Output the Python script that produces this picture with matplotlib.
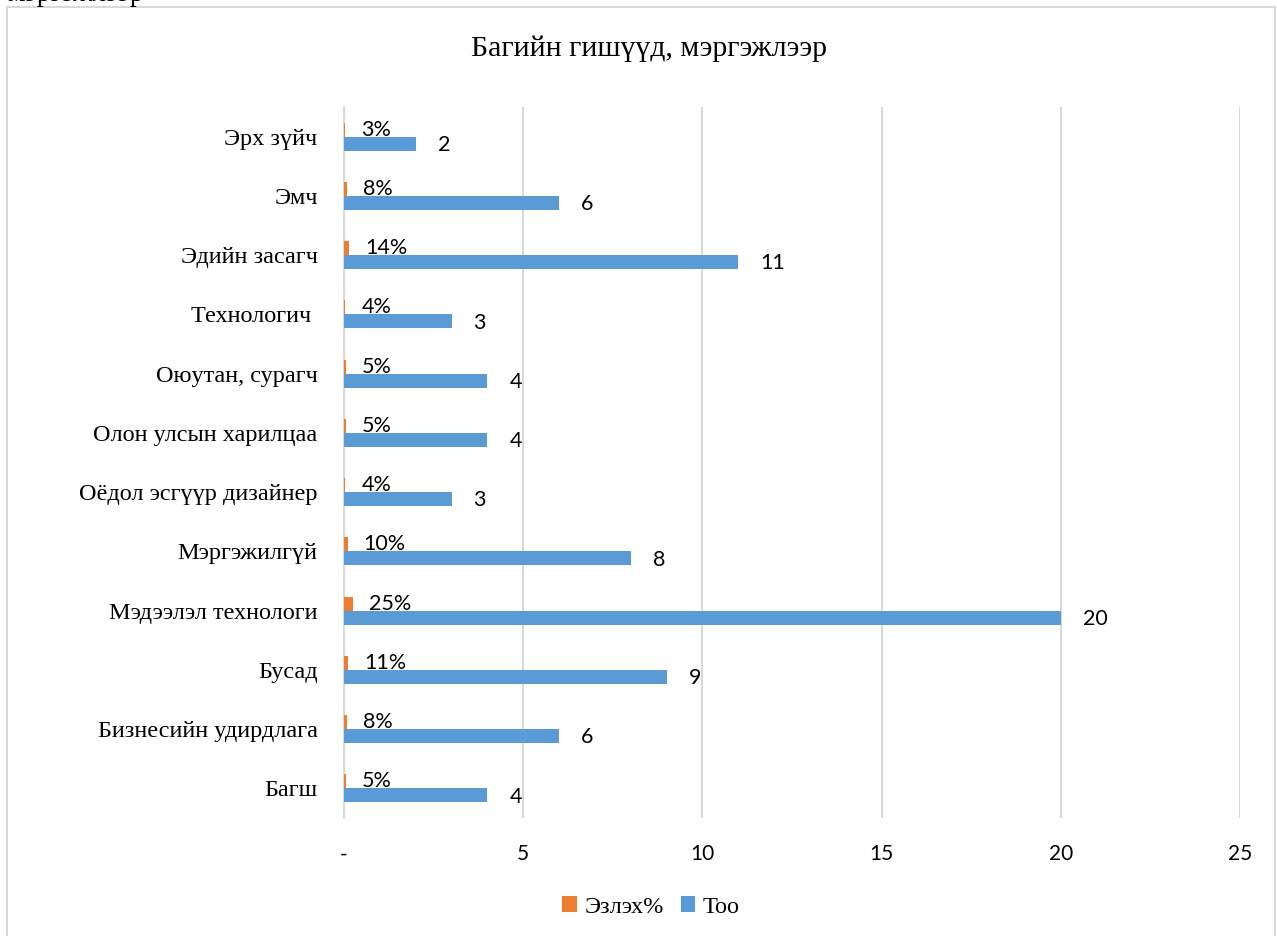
import matplotlib
matplotlib.use("Agg")
import matplotlib.pyplot as plt
from matplotlib.patches import Rectangle
import numpy as np

categories = ["Багш", "Бизнесийн удирдлага", "Бусад", "Мэдээлэл технологи",
              "Мэргэжилгүй", "Оёдол эсгүүр дизайнер", "Олон улсын харилцаа",
              "Оюутан, сурагч", "Технологич ", "Эдийн засагч", "Эмч", "Эрх зүйч"]
too = [4, 6, 9, 20, 8, 3, 4, 4, 3, 11, 6, 2]
ezleh = [0.05, 0.08, 0.11, 0.25, 0.10, 0.04, 0.05, 0.05, 0.04, 0.14, 0.08, 0.03]
xticks = [0, 5, 10, 15, 20, 25]
xticklabels = ["-", "5", "10", "15", "20", "25"]

BLUE = "#5B9BD5"
ORANGE = "#ED7D31"
SERIF = "Liberation Serif"
SANS = "Lato"

W, H = 1277, 936
fig = plt.figure(figsize=(W / 100, H / 100), dpi=100)
ax = fig.add_axes([344 / W, 1 - 818 / H, (1240 - 344) / W, (818 - 107) / H])

y = np.arange(len(categories))
bh = 14 / 59.4
ax.barh(y + bh / 2, ezleh, height=bh, color=ORANGE, label="Эзлэх%", zorder=3)
ax.barh(y - bh / 2, too, height=bh, color=BLUE, label="Тоо", zorder=3)

ax.set_xlim(0, 25)
ax.set_ylim(-0.5, len(categories) - 0.5)
ax.set_xticks(xticks)
ax.set_xticklabels(xticklabels, fontfamily=SANS, fontsize=15)
ax.set_yticks(y)
ax.set_yticklabels(categories, fontfamily=SERIF, fontsize=17.5)
for lbl in ax.get_yticklabels():
    lbl.set_y(lbl.get_position()[1])
ax.tick_params(axis="both", length=0)
ax.tick_params(axis="y", pad=19)
ax.tick_params(axis="x", pad=19)
ax.grid(axis="x", color="#d9d9d9", linewidth=1.5, zorder=0)
for s in ["top", "right", "bottom"]:
    ax.spines[s].set_visible(False)
ax.spines["left"].set_color("#d9d9d9")
ax.spines["left"].set_linewidth(1.5)

for yi, v in zip(y, ezleh):
    ax.annotate(f"{round(v * 100)}%", (v, yi + bh / 2), xytext=(16 * 0.72, 0),
                textcoords="offset points", ha="left", va="center",
                fontfamily=SANS, fontsize=15.5, zorder=4)
for yi, v in zip(y, too):
    ax.annotate(f"{v}", (v, yi - bh / 2), xytext=(22 * 0.72, -1),
                textcoords="offset points", ha="left", va="center",
                fontfamily=SANS, fontsize=15.5, zorder=4)

fig.text(649 / W, 1 - 49 / H, "Багийн гишүүд, мэргэжлээр", ha="center", va="center",
         fontfamily=SERIF, fontsize=21.5)

leg = fig.legend(loc="center", bbox_to_anchor=(651 / W, 1 - 907 / H), ncol=2,
                 frameon=False, prop={"family": SERIF, "size": 17.5},
                 handlelength=0.6, handleheight=0.6, handletextpad=0.3,
                 columnspacing=0.7)

fig.patches.append(Rectangle((7 / W, -0.01), (1275 - 7) / W, 1 - 7 / H + 0.01,
                             transform=fig.transFigure, fill=False,
                             edgecolor="#d9d9d9", linewidth=1.5))
fig.text(7 / W, 1 - 1 / H, "мэргэжлээр", ha="left", va="baseline",
         fontfamily=SERIF, fontsize=20)

fig.savefig("out.png", dpi=100)
